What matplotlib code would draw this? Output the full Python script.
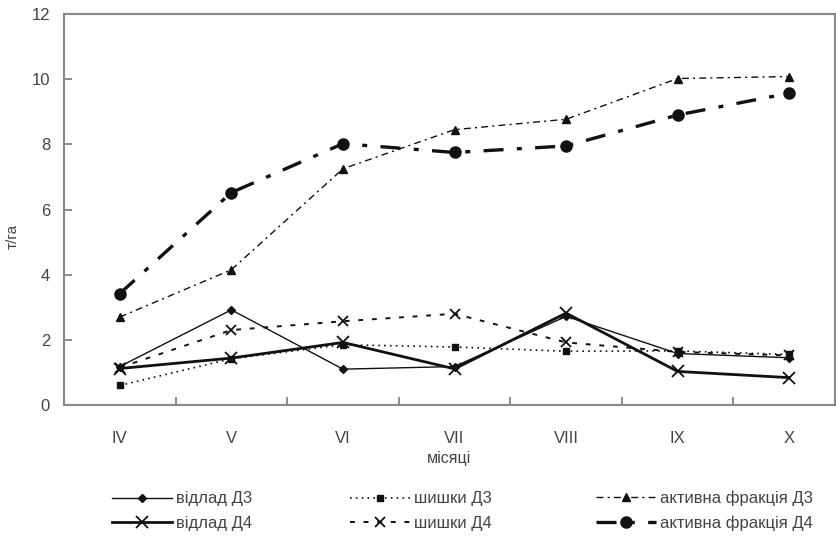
import matplotlib
matplotlib.use("Agg")
import matplotlib.pyplot as plt
from matplotlib.ticker import FixedLocator

plt.rcParams['font.family'] = ['Liberation Sans', 'DejaVu Sans']

months = ['IV', 'V', 'VI', 'VII', 'VIII', 'IX', 'X']

# т/га
vidlad_d3 = [1.18, 2.92, 1.10, 1.18, 2.72, 1.58, 1.45]
vidlad_d4 = [1.12, 1.44, 1.92, 1.11, 2.82, 1.03, 0.84]
shyshky_d3 = [0.60, 1.42, 1.85, 1.78, 1.65, 1.66, 1.55]
shyshky_d4 = [1.15, 2.30, 2.57, 2.80, 1.92, 1.63, 1.52]
aktyvna_d3 = [2.70, 4.15, 7.25, 8.45, 8.77, 10.02, 10.08]
aktyvna_d4 = [3.42, 6.52, 8.02, 7.75, 7.95, 8.90, 9.57]

x = list(range(len(months)))
ink = '#111111'
text_col = '#444444'

fig = plt.figure(figsize=(8.37, 5.39), dpi=100)
ax = fig.add_axes([64 / 837, 1 - 405 / 539, (835 - 64) / 837, (405 - 14) / 539])

l1, = ax.plot(x, vidlad_d3, color=ink, lw=1.0, marker='D', ms=4, label='відлад Д3')
l2, = ax.plot(x, vidlad_d4, color=ink, lw=2.0, marker='x', ms=9, mew=1.3, label='відлад Д4')
l3, = ax.plot(x, shyshky_d3, color=ink, lw=1.2, ls=(0, (1, 2.5)), marker='s', ms=5,
              label='шишки Д3')
l4, = ax.plot(x, shyshky_d4, color=ink, lw=1.4, ls=(0, (2.5, 4.5)), marker='x', ms=7,
              mew=1.3, label='шишки Д4')
l5, = ax.plot(x, aktyvna_d3, color=ink, lw=1.0, ls=(0, (5, 3, 1.5, 3)), marker='^', ms=6,
              label='активна фракція Д3')
l6, = ax.plot(x, aktyvna_d4, color=ink, lw=2.4, ls=(0, (6, 4, 1.5, 4)), marker='o', ms=8,
              label='активна фракція Д4')

ax.set_xlim(-0.5, 6.41)
ax.set_ylim(0, 12)
ax.set_yticks([0, 2, 4, 6, 8, 10, 12])
ax.set_xticks(x)
ax.set_xticklabels(months)
ax.xaxis.set_minor_locator(FixedLocator([i + 0.5 for i in range(6)]))

ax.tick_params(axis='x', which='major', length=0, pad=19, labelsize=12, labelcolor=text_col)
ax.tick_params(axis='x', which='minor', direction='in', length=6, width=1.2, color='#777777')
ax.tick_params(axis='y', direction='in', length=6, width=1.2, color='#777777', pad=10,
               labelsize=12, labelcolor=text_col)

for s in ax.spines.values():
    s.set_color('#888888')
    s.set_linewidth(1.5)

ax.set_xlabel('місяці', fontsize=11.5, color=text_col, labelpad=3)
ax.set_ylabel('т/га', fontsize=11, color=text_col)
ax.yaxis.set_label_coords(-0.058, 0.43)

# three single-column legends so each column sits where it does in the original
groups = [(l1, l2, 104), (l3, l4, 342), (l5, l6, 588)]
for a, b, left in groups:
    leg = fig.legend([a, b], [a.get_label(), b.get_label()], loc='lower left',
                     bbox_to_anchor=(left / 837, 0.0), frameon=False, fontsize=12,
                     handlelength=3.6, handletextpad=0.25, labelspacing=0.55,
                     borderpad=0.3, borderaxespad=0.2)
    for t in leg.get_texts():
        t.set_color(text_col)

fig.savefig('out.png', dpi=100)
